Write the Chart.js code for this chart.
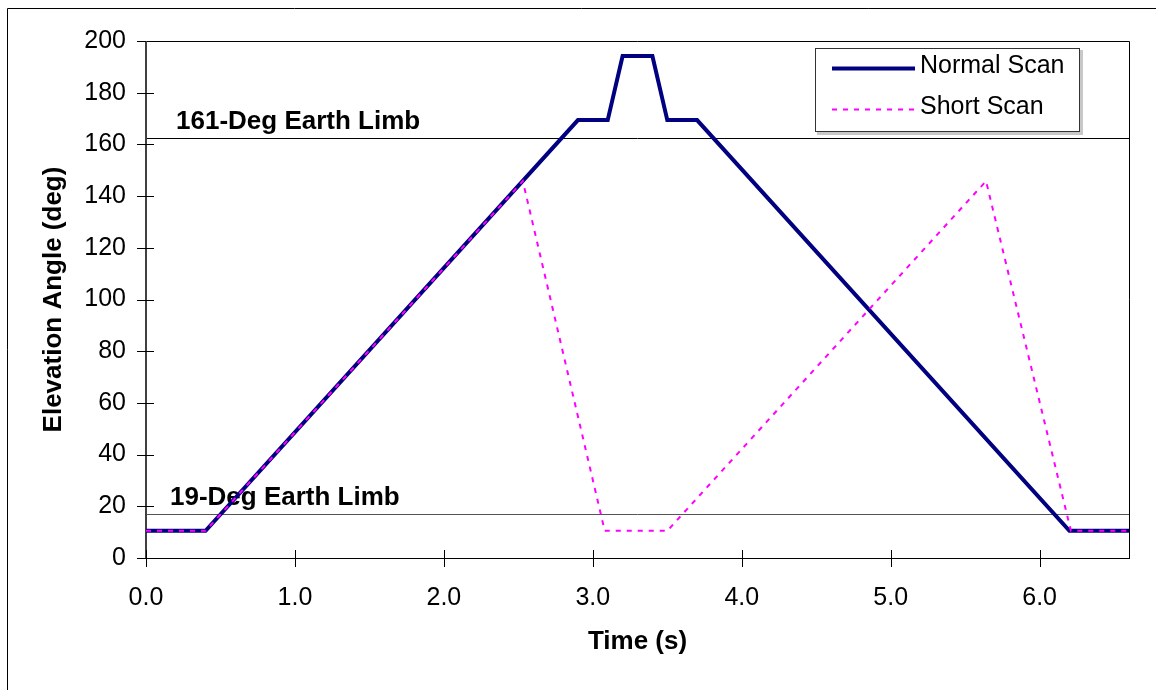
<!DOCTYPE html>
<html>
<head>
<meta charset="utf-8">
<script src="https://cdn.jsdelivr.net/npm/chart.js@4.4.1/dist/chart.umd.min.js"></script>
<style>
  html, body { margin: 0; padding: 0; background: #fff; }
  #wrap { width: 1156px; height: 690px; position: relative; }
</style>
</head>
<body>
<div id="wrap"><canvas id="c" width="1156" height="690"></canvas></div>
<script>
// ---- data ----
const normalTime  = [0, 0.4, 2.9, 3.1, 3.2, 3.4, 3.5, 3.7, 6.2, 6.6];
const normalAngle = [10.5, 10.5, 169.4, 169.4, 194.2, 194.2, 169.4, 169.4, 10.5, 10.5];
const shortTime   = [0, 0.4, 2.53, 3.08, 3.5, 5.64, 6.21, 6.6];
const shortAngle  = [10.5, 10.5, 145.8, 10.5, 10.5, 145.8, 10.5, 10.5];
const seriesNames = ['Normal Scan', 'Short Scan'];
const limbAngles  = [162.6, 16.9];
const limbLabels  = ['161-Deg Earth Limb', '19-Deg Earth Limb'];
const xTicks = [0, 1, 2, 3, 4, 5, 6];
const yTicks = [0, 20, 40, 60, 80, 100, 120, 140, 160, 180, 200];
const xTitle = 'Time (s)';
const yTitle = 'Elevation Angle (deg)';

const FONT = '"Liberation Sans", Arial, sans-serif';

function pts(xs, ys) { return xs.map((v, i) => ({ x: v, y: ys[i] })); }

const decor = {
  id: 'decor',
  beforeDatasetsDraw(chart) {
    const { ctx, chartArea: a, scales: { x, y } } = chart;
    ctx.save();
    // outer frame (left & top)
    ctx.strokeStyle = '#000'; ctx.lineWidth = 1;
    ctx.beginPath(); ctx.moveTo(7.5, 690); ctx.lineTo(7.5, 8.5); ctx.lineTo(1156, 8.5); ctx.stroke();
    // plot frame top & right
    ctx.beginPath(); ctx.moveTo(a.left, a.top + 0.5); ctx.lineTo(a.right + 0.5, a.top + 0.5); ctx.lineTo(a.right + 0.5, a.bottom); ctx.stroke();
    // limb lines + labels
    const limbColors = ['#000', '#555'];
    const labelOffsets = [30, 24];
    limbAngles.forEach((v, i) => {
      const py = Math.round(y.getPixelForValue(v)) + 0.5;
      ctx.strokeStyle = limbColors[i]; ctx.lineWidth = 1;
      ctx.beginPath(); ctx.moveTo(a.left, py); ctx.lineTo(a.right, py); ctx.stroke();
      ctx.fillStyle = '#000';
      ctx.font = 'bold 26px ' + FONT;
      ctx.textAlign = 'left'; ctx.textBaseline = 'alphabetic';
      ctx.fillText(limbLabels[i], a.left + labelOffsets[i], py - 10);
    });
    // axes
    ctx.fillStyle = '#404040';
    ctx.fillRect(a.left - 1, a.top, 2, a.bottom - a.top + 1);
    ctx.fillStyle = '#000';
    ctx.fillRect(a.left - 9, a.bottom, a.right - a.left + 10, 1);
    // ticks (crossing)
    ctx.strokeStyle = '#000'; ctx.lineWidth = 1;
    yTicks.forEach(v => {
      const py = Math.round(y.getPixelForValue(v)) + 0.5;
      ctx.beginPath(); ctx.moveTo(a.left - 9, py); ctx.lineTo(v === 200 ? a.left : a.left + 8, py); ctx.stroke();
    });
    xTicks.forEach(v => {
      const px = Math.round(x.getPixelForValue(v)) + 0.5;
      ctx.beginPath(); ctx.moveTo(px, a.bottom - 8); ctx.lineTo(px, a.bottom + 9); ctx.stroke();
    });
    // axis titles
    ctx.fillStyle = '#000';
    ctx.font = 'bold 26px ' + FONT;
    ctx.textAlign = 'center'; ctx.textBaseline = 'middle';
    ctx.fillText(xTitle, (a.left + a.right) / 2, 642);
    ctx.save();
    ctx.translate(54, (a.top + a.bottom) / 2);
    ctx.rotate(-Math.PI / 2);
    ctx.fillText(yTitle, 0, 0);
    ctx.restore();
    ctx.restore();
  },
  afterDraw(chart) {
    const { ctx } = chart;
    ctx.save();
    // legend box
    const L = 815, T = 48, R = 1079, B = 131;
    ctx.fillStyle = '#c8c8c8';
    ctx.fillRect(L + 2, T + 2, R - L + 2, B - T + 2);
    ctx.fillStyle = '#fff';
    ctx.fillRect(L, T, R - L, B - T);
    ctx.strokeStyle = '#333'; ctx.lineWidth = 1;
    ctx.strokeRect(L + 0.5, T + 0.5, R - L, B - T);
    const rows = [68, 109];
    chart.data.datasets.forEach((ds, i) => {
      ctx.strokeStyle = ds.borderColor;
      ctx.lineWidth = ds.borderWidth;
      ctx.setLineDash(ds.borderDash || []);
      ctx.beginPath(); ctx.moveTo(832, rows[i] + 0.5); ctx.lineTo(915, rows[i] + 0.5); ctx.stroke();
      ctx.setLineDash([]);
      ctx.fillStyle = '#000';
      ctx.font = '25px ' + FONT;
      ctx.textAlign = 'left'; ctx.textBaseline = 'middle';
      ctx.fillText(ds.label, 920, rows[i] - 2);
    });
    ctx.restore();
  }
};

new Chart(document.getElementById('c'), {
  type: 'line',
  data: {
    datasets: [
      { label: seriesNames[0], data: pts(normalTime, normalAngle), borderColor: '#000080', borderWidth: 4,
        pointRadius: 0, tension: 0, borderJoinStyle: 'miter', order: 1, fill: false },
      { label: seriesNames[1], data: pts(shortTime, shortAngle), borderColor: '#FF00FF', borderWidth: 2,
        borderDash: [5, 6], pointRadius: 0, tension: 0, order: 0, fill: false }
    ]
  },
  options: {
    responsive: false,
    animation: false,
    events: [],
    layout: { padding: { left: 0, top: 41, right: 27, bottom: 0 } },
    plugins: { legend: { display: false }, tooltip: { enabled: false }, title: { display: false } },
    scales: {
      x: {
        type: 'linear', min: 0, max: 6.6,
        afterBuildTicks: s => { s.ticks = xTicks.map(v => ({ value: v })); },
        afterFit: s => { s.height = 132; },
        grid: { display: false, drawTicks: false }, border: { display: false },
        ticks: { color: '#000', font: { family: FONT, size: 25 }, padding: 25, maxRotation: 0,
                 callback: v => Number(v).toFixed(1) }
      },
      y: {
        type: 'linear', min: 0, max: 200,
        afterBuildTicks: s => { s.ticks = yTicks.map(v => ({ value: v })); },
        afterFit: s => { s.width = 146; },
        grid: { display: false, drawTicks: false }, border: { display: false },
        ticks: { color: '#000', font: { family: FONT, size: 25 }, padding: 20,
                 callback: v => String(v) }
      }
    }
  },
  plugins: [decor]
});
</script>
</body>
</html>
